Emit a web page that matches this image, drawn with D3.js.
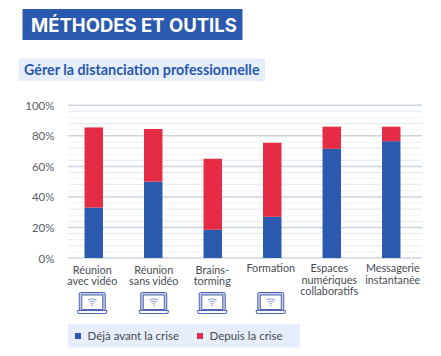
<!DOCTYPE html>
<html>
<head>
<meta charset="utf-8">
<script src="https://cdn.jsdelivr.net/npm/d3@7"></script>
<style>
  html, body { margin: 0; padding: 0; background: #fff; }
  text { font-family: Lato, sans-serif; }
</style>
</head>
<body>
<div id="chart"></div>
<script>
const categories = [
    ["Réunion", "avec vidéo"],
    ["Réunion", "sans vidéo"],
    ["Brains-", "torming"],
    ["Formation"],
    ["Espaces", "numériques", "collaboratifs"],
    ["Messagerie", "instantanée"]
];
const avant = [33, 50, 18.5, 27, 71.5, 76.5];
const depuis = [52.5, 34.5, 46.5, 48.5, 14.5, 9.5];
const hasLaptop = [true, true, true, true, false, false];
const yTicks = [0, 20, 40, 60, 80, 100];
const seriesNames = ["Déjà avant la crise", "Depuis la crise"];

const blue = "#2a59ae", red = "#e62b45";

let svg = d3.select("#chart").append("svg")
    .attr("width", 441).attr("height", 356)
    .style("display", "block");

// Title and subtitle
svg.append("rect").attr("x", 22.5).attr("y", 9).attr("width", 220).attr("height", 31).attr("fill", blue);
svg.append("text").attr("x", 31).attr("y", 32)
    .text("MÉTHODES ET OUTILS")
    .style("font-family", "Inter, sans-serif")
    .style("font-weight", 700).style("font-size", "18.5px").style("fill", "#fff");

svg.append("rect").attr("x", 18.5).attr("y", 58.5).attr("width", 246.5).attr("height", 22.5).attr("fill", "#e6edfb");
svg.append("text").attr("x", 24).attr("y", 75)
    .text("Gérer la distanciation professionnelle")
    .style("font-weight", 700).style("font-size", "14.3px").style("fill", "#2a59ae");

let x = d3.scaleBand().domain(d3.range(categories.length)).range([64, 421]).paddingInner(0.69).paddingOuter(0.345);
let y = d3.scaleLinear().domain([0, 100]).range([258, 105.3]);

// Gridlines, a light one every 4%
d3.range(0, 101, 4).forEach(v => {
    let major = v % 20 === 0;
    svg.append("line")
        .attr("x1", 68).attr("x2", 422)
        .attr("y1", y(v)).attr("y2", y(v))
        .attr("stroke", major ? "#cbd5e0" : (v % 8 === 0 ? "#e6e9ee" : "#f0f2f5"))
        .attr("stroke-width", major ? 1.5 : 1);
});

// Y labels
svg.selectAll(".ylab").data(yTicks).join("text")
    .attr("class", "ylab")
    .attr("x", 54.5).attr("y", d => y(d) + 4.5)
    .attr("text-anchor", "end")
    .text(d => d + "%")
    .style("font-size", "11.5px").style("fill", "#5a5e66");

// Stacked bars
categories.forEach((c, i) => {
    svg.append("rect").attr("x", x(i)).attr("width", x.bandwidth())
        .attr("y", y(avant[i])).attr("height", y(0) - y(avant[i])).attr("fill", blue);
    svg.append("rect").attr("x", x(i)).attr("width", x.bandwidth())
        .attr("y", y(avant[i] + depuis[i])).attr("height", y(avant[i]) - y(avant[i] + depuis[i])).attr("fill", red);
});

// Category labels sit a little off the bar centres in the original
const labelShift = [-1.5, 0.5, -0.5, -1.5, -2.5, 1.5];
categories.forEach((c, i) => {
    let cx = x(i) + x.bandwidth() / 2 + labelShift[i];
    let top = c.length === 2 && i < 4 ? 273.5 : 272;
    c.forEach((line, k) => {
        svg.append("text").attr("x", cx).attr("y", top + k * 11.7)
            .attr("text-anchor", "middle")
            .text(line)
            .style("font-size", "10.8px").style("fill", "#4a4c52");
    });
});

// Laptop icons
function laptop(cx) {
    let g = svg.append("g").attr("transform", `translate(${cx},292)`)
        .attr("fill", "none").attr("stroke", "#4f64b2");
    g.append("rect").attr("x", -13).attr("y", 0.5).attr("width", 26).attr("height", 18).attr("rx", 1.5).attr("fill", "#c3cde9").attr("stroke-width", 1);
    g.append("rect").attr("x", -10.5).attr("y", 3).attr("width", 21).attr("height", 14.5).attr("fill", "#fff").attr("stroke-width", 1);
    g.append("path").attr("d", "M-14.5,18.5 H14.5 V20 Q14.5,21.5 13,21.5 H-13 Q-14.5,21.5 -14.5,20 Z").attr("fill", "#fff").attr("stroke-width", 1.1);
    g.append("path").attr("d", "M-4.5,8 Q0,5.5 4.5,8 M-3,10 Q0,8.2 3,10 M-1.5,12 Q0,11 1.5,12").attr("stroke", "#7e8dc8").attr("stroke-width", 0.9);
    g.append("circle").attr("cx", 0).attr("cy", 13.7).attr("r", 0.7).attr("fill", "#7e8dc8").attr("stroke", "none");
}
categories.forEach((c, i) => {
    if (hasLaptop[i]) laptop(x(i) + x.bandwidth() / 2 + labelShift[i]);
});

// Legend
svg.append("rect").attr("x", 68).attr("y", 324).attr("width", 232).attr("height", 23.5).attr("fill", "#e6edfb");
let legendX = [75, 197];
seriesNames.forEach((name, i) => {
    svg.append("rect").attr("x", legendX[i]).attr("y", 333).attr("width", 6).attr("height", 6)
        .attr("fill", i === 0 ? blue : red);
    svg.append("text").attr("x", legendX[i] + 12.5).attr("y", 340)
        .text(name)
        .style("font-size", "11.5px").style("fill", "#4a4c52");
});
</script>
</body>
</html>
